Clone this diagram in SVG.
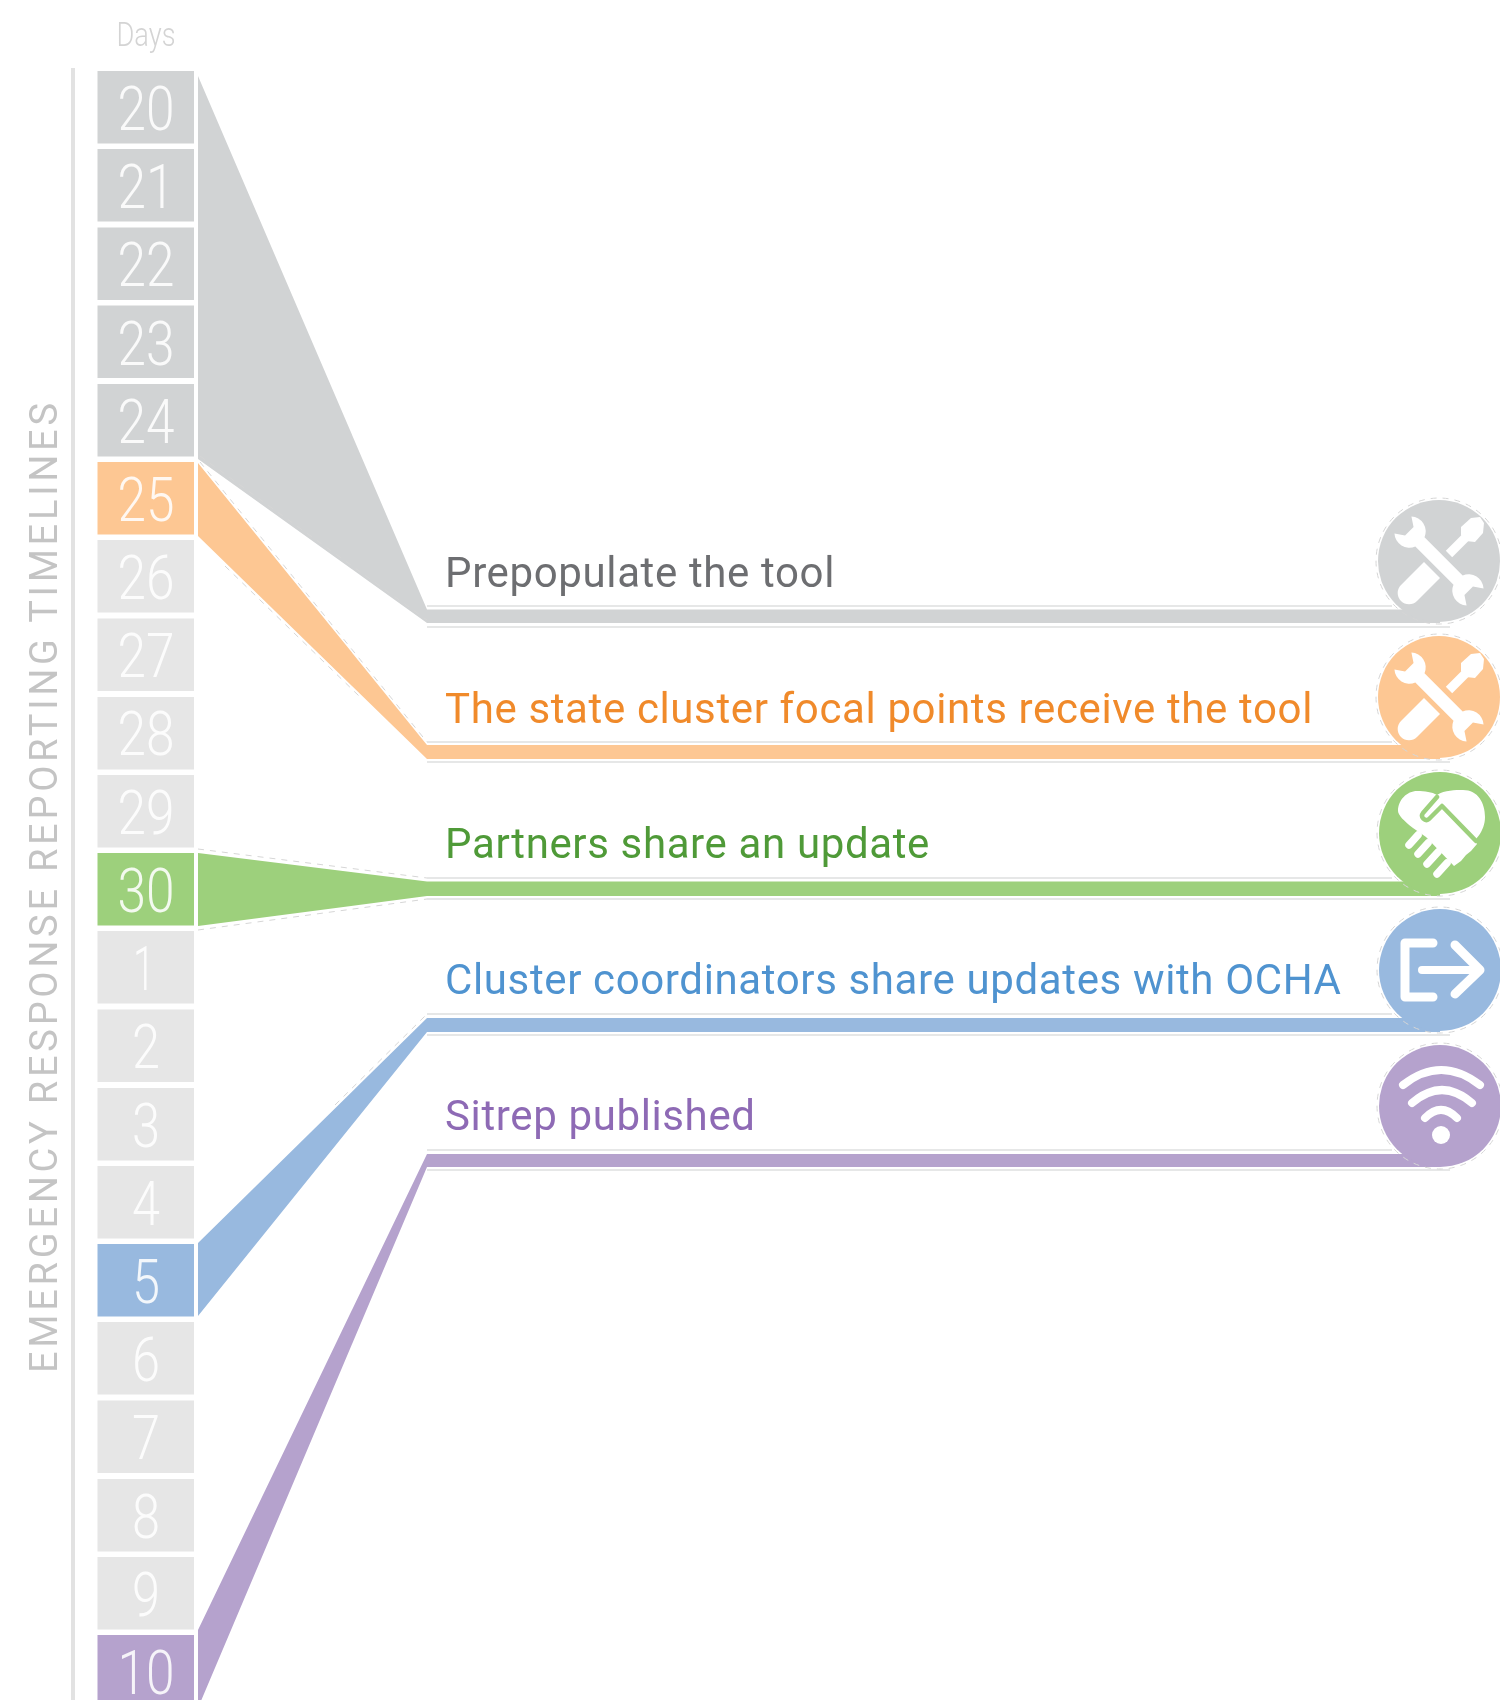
<svg xmlns="http://www.w3.org/2000/svg" width="1500" height="1700" viewBox="0 0 1500 1700">
<style>
.num{font-family:Roboto,"Liberation Sans",sans-serif;font-weight:300;font-size:62px;fill:#fff;fill-opacity:.88;text-anchor:middle}
.lab{font-family:Roboto,"Liberation Sans",sans-serif;font-weight:400;font-size:42px;letter-spacing:.63px}
.cell{fill:#e6e6e6}
.g{fill:#d1d3d4}.o{fill:#fdc793}.n{fill:#9dd07c}.b{fill:#98b9df}.p{fill:#b5a2cd}
.thin{stroke:#dedfe0;stroke-width:1.5;fill:none}
.dash{stroke:#d6d6d6;stroke-width:1;fill:none;stroke-dasharray:6 6}
.w{fill:#fff}
.ws{fill:none;stroke:#fff;stroke-linecap:round;stroke-linejoin:round}
</style>
<defs>
<filter id="soft" x="0" y="0" width="1" height="1" filterUnits="objectBoundingBox"><feGaussianBlur stdDeviation="0.7"/></filter>
<g id="tools">
<path class="w" d="M-15,1 L1,17 L-22,40 A11,11 0 0 1 -38,24 Z"/>
<path fill="none" stroke="#fff" stroke-width="9" d="M10,-7 L30,-27"/>
<path class="w" d="M22,-34 L32,-43 L41,-44 L45,-38 L44,-28 L36,-19 L27,-20 L22,-26 Z"/>
<path class="w" transform="rotate(45)" d="M-27,-6.500 H27 A15,15 0 0 1 51,-12 L42,-6 V6 L51,12 A15,15 0 0 1 27,6.500 H-27 A15,15 0 0 1 -51,12 L-42,6 V-6 L-51,-12 A15,15 0 0 1 -27,-6.500 Z"/>
</g>
</defs>
<g filter="url(#soft)">
<rect x="0" y="0" width="1500" height="1700" fill="#fff"/>
<text x="146" y="46" font-family="Roboto,sans-serif" font-weight="300" font-size="34" fill="#d4d4d4" text-anchor="middle" textLength="59" lengthAdjust="spacingAndGlyphs">Days</text>
<rect x="71" y="68" width="4" height="1632" fill="#e2e2e2"/>
<text transform="translate(56.500,1373) rotate(-90)" font-family="Roboto,sans-serif" font-weight="400" font-size="38" fill="#c4c4c4" textLength="970" lengthAdjust="spacing">EMERGENCY RESPONSE REPORTING TIMELINES</text>
<g id="days">
<g id="d20"><rect class="g" x="97.500" y="71" width="96.500" height="72.500"/><text class="num" x="146" y="130" textLength="57" lengthAdjust="spacingAndGlyphs">20</text></g>
<g id="d21"><rect class="g" x="97.500" y="149" width="96.500" height="72.500"/><text class="num" x="146" y="208" textLength="57" lengthAdjust="spacingAndGlyphs">21</text></g>
<g id="d22"><rect class="g" x="97.500" y="227.500" width="96.500" height="72.500"/><text class="num" x="146" y="286" textLength="57" lengthAdjust="spacingAndGlyphs">22</text></g>
<g id="d23"><rect class="g" x="97.500" y="305.500" width="96.500" height="72.500"/><text class="num" x="146" y="365" textLength="57" lengthAdjust="spacingAndGlyphs">23</text></g>
<g id="d24"><rect class="g" x="97.500" y="384" width="96.500" height="72.500"/><text class="num" x="146" y="443" textLength="57" lengthAdjust="spacingAndGlyphs">24</text></g>
<g id="d25"><rect class="o" x="97.500" y="462" width="96.500" height="72.500"/><text class="num" x="146" y="521" textLength="57" lengthAdjust="spacingAndGlyphs">25</text></g>
<g id="d26"><rect class="cell" x="97.500" y="540" width="96.500" height="72.500"/><text class="num" x="146" y="599" textLength="57" lengthAdjust="spacingAndGlyphs">26</text></g>
<g id="d27"><rect class="cell" x="97.500" y="618.500" width="96.500" height="72.500"/><text class="num" x="146" y="677" textLength="57" lengthAdjust="spacingAndGlyphs">27</text></g>
<g id="d28"><rect class="cell" x="97.500" y="697" width="96.500" height="72.500"/><text class="num" x="146" y="755" textLength="57" lengthAdjust="spacingAndGlyphs">28</text></g>
<g id="d29"><rect class="cell" x="97.500" y="775" width="96.500" height="72.500"/><text class="num" x="146" y="834" textLength="57" lengthAdjust="spacingAndGlyphs">29</text></g>
<g id="d30"><rect class="n" x="97.500" y="853" width="96.500" height="72.500"/><text class="num" x="146" y="912" textLength="57" lengthAdjust="spacingAndGlyphs">30</text></g>
<g id="d1"><rect class="cell" x="97.500" y="931" width="96.500" height="72.500"/><text class="num" x="144" y="990" textLength="22" lengthAdjust="spacingAndGlyphs">1</text></g>
<g id="d2"><rect class="cell" x="97.500" y="1009.500" width="96.500" height="72.500"/><text class="num" x="146" y="1068" textLength="28" lengthAdjust="spacingAndGlyphs">2</text></g>
<g id="d3"><rect class="cell" x="97.500" y="1088" width="96.500" height="72.500"/><text class="num" x="146" y="1147" textLength="28" lengthAdjust="spacingAndGlyphs">3</text></g>
<g id="d4"><rect class="cell" x="97.500" y="1166" width="96.500" height="72.500"/><text class="num" x="146" y="1225" textLength="28" lengthAdjust="spacingAndGlyphs">4</text></g>
<g id="d5"><rect class="b" x="97.500" y="1244" width="96.500" height="72.500"/><text class="num" x="146" y="1303" textLength="28" lengthAdjust="spacingAndGlyphs">5</text></g>
<g id="d6"><rect class="cell" x="97.500" y="1322" width="96.500" height="72.500"/><text class="num" x="146" y="1381" textLength="28" lengthAdjust="spacingAndGlyphs">6</text></g>
<g id="d7"><rect class="cell" x="97.500" y="1400.500" width="96.500" height="72.500"/><text class="num" x="146" y="1459" textLength="28" lengthAdjust="spacingAndGlyphs">7</text></g>
<g id="d8"><rect class="cell" x="97.500" y="1479" width="96.500" height="72.500"/><text class="num" x="146" y="1538" textLength="28" lengthAdjust="spacingAndGlyphs">8</text></g>
<g id="d9"><rect class="cell" x="97.500" y="1557" width="96.500" height="72.500"/><text class="num" x="146" y="1616" textLength="28" lengthAdjust="spacingAndGlyphs">9</text></g>
<g id="d10"><rect class="p" x="97.500" y="1635" width="96.500" height="72.500"/><text class="num" x="146" y="1694" textLength="57" lengthAdjust="spacingAndGlyphs">10</text></g>
</g>
<g id="connectors">
<path class="g" d="M198,76 V459 L427,623 H1440 V609.500 H427 Z"/>
<path class="o" d="M198,463 V536 L427,759 H1440 V745 H427 Z"/>
<path class="n" d="M198,853 V926 L427,896 H1440 V881.500 H427 Z"/>
<path class="b" d="M198,1243 V1316 L427,1032 H1440 V1018 H427 Z"/>
<path class="p" d="M198,1630 V1708 L427,1167 H1440 V1154 H427 Z"/>
<path class="thin" d="M427,606 H1392 M427,627 H1450 M427,742 H1392 M427,762 H1450 M427,878 H1392 M427,899 H1450 M427,1014 H1392 M427,1035 H1450 M427,1150 H1392 M427,1170 H1450"/>
<path class="dash" d="M200,456 L427,620 M200,462 L427,742 M225,566 L360,697 M198,849 L427,878 M198,930 L427,899 M335,1105 L427,1014"/>
</g>
<g id="n1"><circle class="g" cx="1439" cy="561" r="61"/><circle class="dash" cx="1439" cy="561" r="63"/><use href="#tools" x="1439" y="561"/><text class="lab" x="445" y="587" fill="#6d6e71">Prepopulate the tool</text></g>
<g id="n2"><circle class="o" cx="1439" cy="697" r="61"/><circle class="dash" cx="1439" cy="697" r="63"/><use href="#tools" x="1439" y="697"/><text class="lab" x="445" y="723" fill="#f08a2c">The state cluster focal points receive the tool</text></g>
<g id="n3"><circle class="n" cx="1440" cy="833" r="61"/><circle class="dash" cx="1440" cy="833" r="63"/>
<g transform="translate(1440,833)"><path class="w" d="M-3,-38 C5,-43 15,-43 23,-43 C38,-43 45,-30 45,-16 C45,-6 40,2 35,7 L37,11 L31,18 L26,22 L21,28 L14,33 L-14,4 L-27,-5 C-36,-12 -42,-18 -42,-22 C-42,-33 -33,-42 -23,-42 C-15,-42 -8,-41 -3,-38 Z"/>
<path fill="none" stroke="#9dd07c" stroke-width="4.500" stroke-linecap="round" stroke-linejoin="round" d="M-3,-36 L-17,-20 C-20,-16 -15,-11 -11,-14 L2,-27 L36,8"/>
<path class="ws" stroke-width="7.500" d="M-31,12 L-22,2 M-22,21 L-12,10 M-13,31 L-2,19 M-3,41 L7,30"/></g>
<text class="lab" x="445" y="858" fill="#4f9a38">Partners share an update</text></g>
<g id="n4"><circle class="b" cx="1440" cy="970" r="61"/><circle class="dash" cx="1440" cy="970" r="63"/>
<g transform="translate(1440,970)"><path class="ws" stroke-width="9" d="M-7,-27 H-35 V27 H-7"/><path class="ws" stroke-width="8" d="M-18,0 H38"/><path class="ws" stroke-width="9" d="M15,-25 L40,0 L15,24"/></g>
<text class="lab" x="445" y="994" fill="#4f93d0">Cluster coordinators share updates with OCHA</text></g>
<g id="n5"><circle class="p" cx="1440" cy="1106" r="61"/><circle class="dash" cx="1440" cy="1106" r="63"/>
<g transform="translate(1440,1106)"><path class="ws" stroke-width="8" d="M-37,-21 Q1,-51 40,-21"/><path class="ws" stroke-width="8" d="M-28,-3 Q2,-29 32,-3"/><path class="ws" stroke-width="8" d="M-15,12 Q1,-4 17,12"/><circle class="w" cx="1" cy="29" r="9"/></g>
<text class="lab" x="445" y="1130" fill="#8e6bb5">Sitrep published</text></g>
</g>
</svg>
